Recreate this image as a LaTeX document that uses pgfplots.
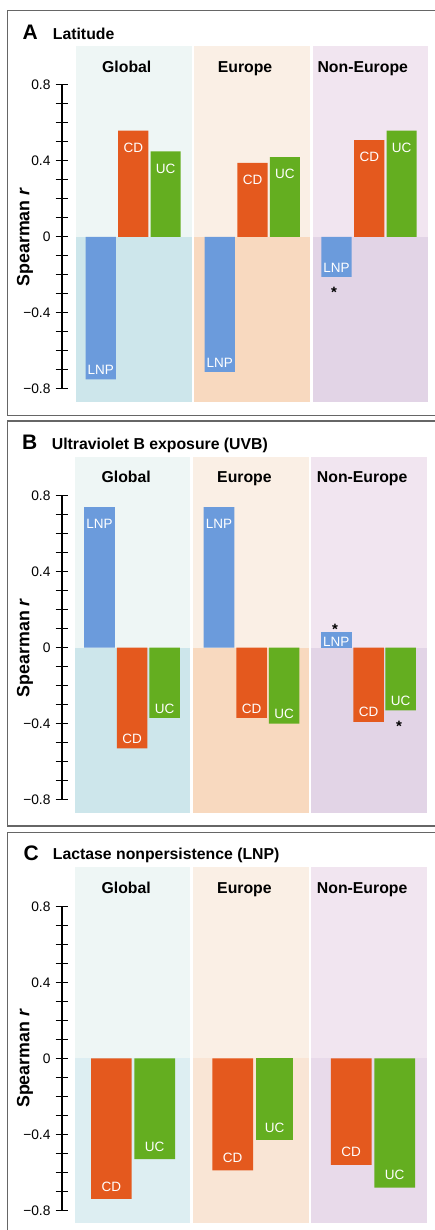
\documentclass[border=0pt]{standalone}
\usepackage{pgfplots}
\pgfplotsset{compat=1.18}
\usepackage{fontspec}
\setmainfont{Liberation Sans}
\definecolor{lnp}{HTML}{6B9BDC}
\definecolor{cd}{HTML}{E4591E}
\definecolor{uc}{HTML}{64AE20}
\definecolor{gU}{HTML}{EEF6F5}
\definecolor{gL}{HTML}{CDE6EB}
\definecolor{eU}{HTML}{FAEFE5}
\definecolor{eL}{HTML}{F8D9BF}
\definecolor{nU}{HTML}{F1E5F0}
\definecolor{nL}{HTML}{E2D4E6}
\definecolor{gLc}{HTML}{DDEEF2}
\definecolor{eLc}{HTML}{F9E5D5}
\definecolor{nLc}{HTML}{E8DAEA}
\definecolor{frame}{HTML}{666666}
\newcommand\fs[1]{\fontsize{#1}{#1}\selectfont}
\tikzset{
  posl/.style={anchor=center, yshift=-17pt, text=white, font=\fs{13.5}, inner sep=0pt},
  negl/.style={anchor=center, yshift=9.5pt, text=white, font=\fs{13.5}, inner sep=0pt},
  negc/.style={anchor=center, yshift=12.5pt, text=white, font=\fs{13.5}, inner sep=0pt},
  grp/.style={anchor=base, font=\fs{15.8}\bfseries, inner sep=0pt},
  star/.style={anchor=center, font=\fs{15}\bfseries, inner sep=0pt},
  ttl/.style={anchor=base west, inner sep=0pt},
}
\pgfplotsset{
 panel/.style={
  scale only axis, width=366.7pt, height=304pt,
  xmin=-0.61, xmax=2.49, ymin=-0.8, ymax=0.8,
  axis x line=none, axis y line*=left, clip=false,
  ytick={-0.8,-0.4,0,0.4,0.8},
  yticklabels={−0.8,−0.4,0,0.4,0.8},
  minor ytick={-0.7,-0.6,-0.5,-0.3,-0.2,-0.1,0.1,0.2,0.3,0.5,0.6,0.7},
  tick align=center, major tick length=12pt, minor tick length=12pt,
  every tick/.style={black, line width=1pt},
  y axis line style={black, line width=2pt},
  yticklabel style={font=\fs{13.8}, anchor=east, inner sep=0pt, xshift=-5pt},
  ylabel={Spearman \textit{r}},
  every axis y label/.style={at={(axis description cs:-0.1,0.5)}, rotate=90, anchor=center, font=\fs{17.8}\bfseries},
  anchor=south west,
 },
}
\begin{document}
\begin{tikzpicture}[x=1pt,y=1pt]
\useasboundingbox (0,0) rectangle (435,1230);
\clip (0,0) rectangle (435,1230);
\fill[white] (0,0) rectangle (435,1230);
% frames
\draw[frame, line width=1.3pt] (440,1219.3) -- (7.3,1219.3) -- (7.3,814.3) -- (440,814.3);
\draw[frame, line width=1.3pt] (440,809) -- (7.3,809) -- (7.3,404) -- (440,404);
\draw[frame, line width=1.3pt] (440,397.7) -- (7.3,397.7) -- (7.3,-10);
% titles
\node[ttl, font=\fs{21}\bfseries] at (22.5,1190.5) {A};
\node[ttl, font=\fs{15.8}\bfseries] at (52.7,1190.5) {Latitude};
\node[ttl, font=\fs{21}\bfseries] at (22,780) {B};
\node[ttl, font=\fs{15.8}\bfseries] at (51.7,780) {Ultraviolet B exposure (UVB)};
\node[ttl, font=\fs{21}\bfseries] at (23.5,369.5) {C};
\node[ttl, font=\fs{15.8}\bfseries] at (52.7,370.5) {Lactase nonpersistence (LNP)};

% ---------- Panel A ----------
\begin{axis}[panel, at={(61.7pt,841pt)}]
\fill[gU] (axis cs:-0.489,0) rectangle (axis cs:0.489,1.005);
\fill[gL] (axis cs:-0.489,-0.868) rectangle (axis cs:0.489,0);
\fill[eU] (axis cs:0.511,0) rectangle (axis cs:1.489,1.005);
\fill[eL] (axis cs:0.511,-0.868) rectangle (axis cs:1.489,0);
\fill[nU] (axis cs:1.511,0) rectangle (axis cs:2.489,1.005);
\fill[nL] (axis cs:1.511,-0.868) rectangle (axis cs:2.489,0);
\node[grp] at (axis cs:-0.06,0.868) {Global};
\node[grp] at (axis cs:0.94,0.868) {Europe};
\node[grp] at (axis cs:1.935,0.868) {Non-Europe};
\addplot[ybar, bar shift=0pt, bar width=0.254, fill=lnp, draw=none,
  nodes near coords={LNP}, every node near coord/.append style={negl}]
  coordinates {(-0.28,-0.75) (0.726,-0.71) (1.713,-0.21)};
\addplot[ybar, bar shift=0pt, bar width=0.254, fill=cd, draw=none,
  nodes near coords={CD}, every node near coord/.append style={posl}]
  coordinates {(-0.005,0.56) (1.003,0.39) (1.99,0.51)};
\addplot[ybar, bar shift=0pt, bar width=0.254, fill=uc, draw=none,
  nodes near coords={UC}, every node near coord/.append style={posl}]
  coordinates {(0.269,0.45) (1.277,0.42) (2.263,0.56)};
\node[star, yshift=-15.2pt] at (axis cs:1.692,-0.21) {*};
\end{axis}

% ---------- Panel B ----------
\begin{axis}[panel, at={(61.7pt,430.3pt)}]
\fill[gU] (axis cs:-0.5,0) rectangle (axis cs:0.478,1.005);
\fill[gL] (axis cs:-0.5,-0.868) rectangle (axis cs:0.478,0);
\fill[eU] (axis cs:0.5,0) rectangle (axis cs:1.478,1.005);
\fill[eL] (axis cs:0.5,-0.868) rectangle (axis cs:1.478,0);
\fill[nU] (axis cs:1.5,0) rectangle (axis cs:2.478,1.005);
\fill[nL] (axis cs:1.5,-0.868) rectangle (axis cs:2.478,0);
\node[grp] at (axis cs:-0.065,0.868) {Global};
\node[grp] at (axis cs:0.935,0.868) {Europe};
\node[grp] at (axis cs:1.93,0.868) {Non-Europe};
\addplot[ybar, bar shift=0pt, bar width=0.26, fill=lnp, draw=none,
  nodes near coords={LNP}, every node near coord/.append style={posl}]
  coordinates {(-0.29,0.74) (0.72,0.74)};
\addplot[ybar, bar shift=0pt, bar width=0.26, fill=lnp, draw=none,
  nodes near coords={LNP}, every node near coord/.append style={posl, yshift=7.3pt}]
  coordinates {(1.71,0.08)};
\addplot[ybar, bar shift=0pt, bar width=0.258, fill=cd, draw=none,
  nodes near coords={CD}, every node near coord/.append style={negl}]
  coordinates {(-0.015,-0.53) (0.995,-0.37) (1.985,-0.39)};
\addplot[ybar, bar shift=0pt, bar width=0.258, fill=uc, draw=none,
  nodes near coords={UC}, every node near coord/.append style={negl}]
  coordinates {(0.26,-0.37) (1.27,-0.40) (2.255,-0.33)};
\node[star, yshift=3.1pt] at (axis cs:1.7,0.08) {*};
\node[star, yshift=-16.2pt] at (axis cs:2.241,-0.33) {*};
\end{axis}

% ---------- Panel C ----------
\begin{axis}[panel, at={(61.7pt,19.6pt)}]
\fill[gU] (axis cs:-0.5,0) rectangle (axis cs:0.478,1.005);
\fill[gLc] (axis cs:-0.5,-0.868) rectangle (axis cs:0.478,0);
\fill[eU] (axis cs:0.5,0) rectangle (axis cs:1.478,1.005);
\fill[eLc] (axis cs:0.5,-0.868) rectangle (axis cs:1.478,0);
\fill[nU] (axis cs:1.5,0) rectangle (axis cs:2.478,1.005);
\fill[nLc] (axis cs:1.5,-0.868) rectangle (axis cs:2.478,0);
\node[grp] at (axis cs:-0.065,0.868) {Global};
\node[grp] at (axis cs:0.935,0.868) {Europe};
\node[grp] at (axis cs:1.93,0.868) {Non-Europe};
\addplot[ybar, bar shift=0pt, bar width=0.344, fill=cd, draw=none,
  nodes near coords={CD}, every node near coord/.append style={negc}]
  coordinates {(-0.19,-0.74) (0.836,-0.59) (1.837,-0.56)};
\addplot[ybar, bar shift=0pt, bar width=0.344, fill=uc, draw=none,
  nodes near coords={UC}, every node near coord/.append style={negc}]
  coordinates {(0.176,-0.53) (2.205,-0.68)};
\addplot[ybar, bar shift=0pt, bar width=0.315, fill=uc, draw=none,
  nodes near coords={UC}, every node near coord/.append style={negc}]
  coordinates {(1.19,-0.43)};
\end{axis}
\end{tikzpicture}
\end{document}
